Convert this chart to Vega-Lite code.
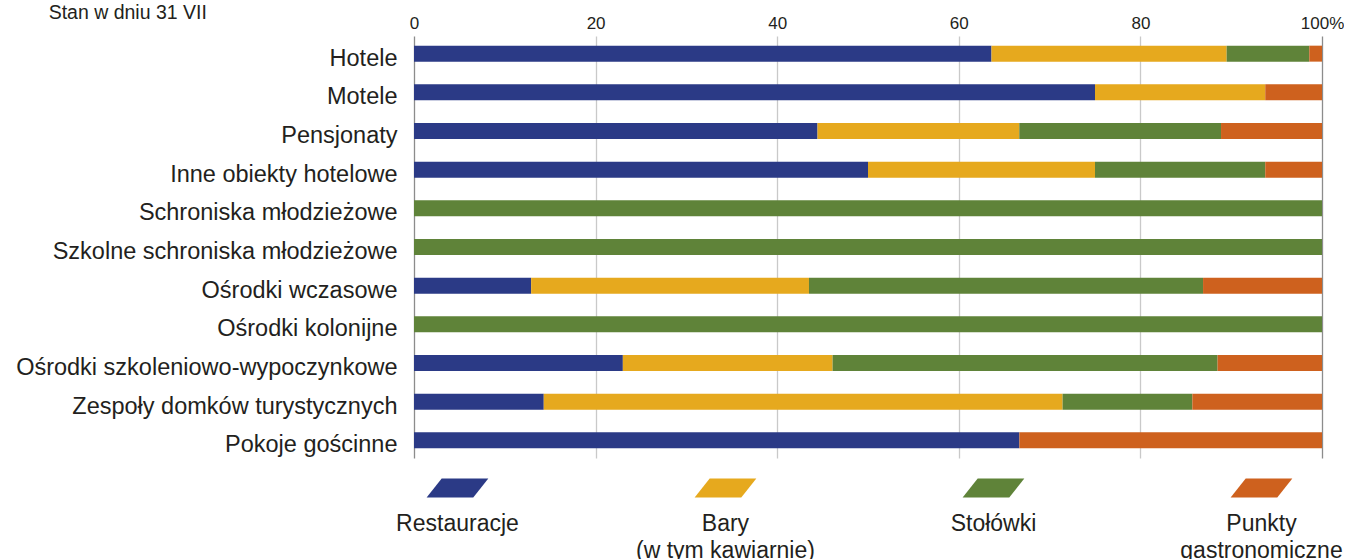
{
  "$schema": "https://vega.github.io/schema/vega-lite/v6.json",
  "padding": {"left": 15, "top": 2, "right": 0, "bottom": 0},
  "background": "#ffffff",
  "config": {
    "view": {"stroke": null},
    "font": "Liberation Sans",
    "text": {"font": "Liberation Sans"}
  },
  "title": {
    "text": "Stan w dniu 31 VII",
    "anchor": "start",
    "frame": "bounds",
    "fontSize": 19.5,
    "fontWeight": "normal",
    "font": "Liberation Sans",
    "color": "#231F20",
    "dx": 33,
    "offset": -9
  },
  "spacing": 6,
  "resolve": {"scale": {"x": "independent", "y": "independent"}},
  "vconcat": [
    {
      "width": 908,
      "height": 422,
      "data": {
        "values": [
          {"obiekt": "Hotele", "rodzaj": "Restauracje", "nr": 1, "udzial": 63.6},
          {"obiekt": "Hotele", "rodzaj": "Bary (w tym kawiarnie)", "nr": 2, "udzial": 25.9},
          {"obiekt": "Hotele", "rodzaj": "Stołówki", "nr": 3, "udzial": 9.1},
          {"obiekt": "Hotele", "rodzaj": "Punkty gastronomiczne", "nr": 4, "udzial": 1.4},
          {"obiekt": "Motele", "rodzaj": "Restauracje", "nr": 1, "udzial": 75.0},
          {"obiekt": "Motele", "rodzaj": "Bary (w tym kawiarnie)", "nr": 2, "udzial": 18.75},
          {"obiekt": "Motele", "rodzaj": "Stołówki", "nr": 3, "udzial": 0},
          {"obiekt": "Motele", "rodzaj": "Punkty gastronomiczne", "nr": 4, "udzial": 6.25},
          {"obiekt": "Pensjonaty", "rodzaj": "Restauracje", "nr": 1, "udzial": 44.44},
          {"obiekt": "Pensjonaty", "rodzaj": "Bary (w tym kawiarnie)", "nr": 2, "udzial": 22.22},
          {"obiekt": "Pensjonaty", "rodzaj": "Stołówki", "nr": 3, "udzial": 22.22},
          {"obiekt": "Pensjonaty", "rodzaj": "Punkty gastronomiczne", "nr": 4, "udzial": 11.12},
          {"obiekt": "Inne obiekty hotelowe", "rodzaj": "Restauracje", "nr": 1, "udzial": 50.0},
          {"obiekt": "Inne obiekty hotelowe", "rodzaj": "Bary (w tym kawiarnie)", "nr": 2, "udzial": 25.0},
          {"obiekt": "Inne obiekty hotelowe", "rodzaj": "Stołówki", "nr": 3, "udzial": 18.75},
          {"obiekt": "Inne obiekty hotelowe", "rodzaj": "Punkty gastronomiczne", "nr": 4, "udzial": 6.25},
          {"obiekt": "Schroniska młodzieżowe", "rodzaj": "Stołówki", "nr": 3, "udzial": 100},
          {"obiekt": "Szkolne schroniska młodzieżowe", "rodzaj": "Stołówki", "nr": 3, "udzial": 100},
          {"obiekt": "Ośrodki wczasowe", "rodzaj": "Restauracje", "nr": 1, "udzial": 12.9},
          {"obiekt": "Ośrodki wczasowe", "rodzaj": "Bary (w tym kawiarnie)", "nr": 2, "udzial": 30.6},
          {"obiekt": "Ośrodki wczasowe", "rodzaj": "Stołówki", "nr": 3, "udzial": 43.4},
          {"obiekt": "Ośrodki wczasowe", "rodzaj": "Punkty gastronomiczne", "nr": 4, "udzial": 13.1},
          {"obiekt": "Ośrodki kolonijne", "rodzaj": "Stołówki", "nr": 3, "udzial": 100},
          {"obiekt": "Ośrodki szkoleniowo-wypoczynkowe", "rodzaj": "Restauracje", "nr": 1, "udzial": 23.0},
          {"obiekt": "Ośrodki szkoleniowo-wypoczynkowe", "rodzaj": "Bary (w tym kawiarnie)", "nr": 2, "udzial": 23.1},
          {"obiekt": "Ośrodki szkoleniowo-wypoczynkowe", "rodzaj": "Stołówki", "nr": 3, "udzial": 42.4},
          {"obiekt": "Ośrodki szkoleniowo-wypoczynkowe", "rodzaj": "Punkty gastronomiczne", "nr": 4, "udzial": 11.5},
          {"obiekt": "Zespoły domków turystycznych", "rodzaj": "Restauracje", "nr": 1, "udzial": 14.29},
          {"obiekt": "Zespoły domków turystycznych", "rodzaj": "Bary (w tym kawiarnie)", "nr": 2, "udzial": 57.14},
          {"obiekt": "Zespoły domków turystycznych", "rodzaj": "Stołówki", "nr": 3, "udzial": 14.29},
          {"obiekt": "Zespoły domków turystycznych", "rodzaj": "Punkty gastronomiczne", "nr": 4, "udzial": 14.28},
          {"obiekt": "Pokoje gościnne", "rodzaj": "Restauracje", "nr": 1, "udzial": 66.67},
          {"obiekt": "Pokoje gościnne", "rodzaj": "Punkty gastronomiczne", "nr": 4, "udzial": 33.33}
        ]
      },
      "mark": {"type": "bar"},
      "encoding": {
        "y": {
          "field": "obiekt",
          "type": "nominal",
          "sort": ["Hotele", "Motele", "Pensjonaty", "Inne obiekty hotelowe", "Schroniska młodzieżowe", "Szkolne schroniska młodzieżowe", "Ośrodki wczasowe", "Ośrodki kolonijne", "Ośrodki szkoleniowo-wypoczynkowe", "Zespoły domków turystycznych", "Pokoje gościnne"],
          "scale": {"paddingInner": 0.587, "paddingOuter": 0.25},
          "axis": {
            "title": null,
            "grid": false,
            "ticks": false,
            "domain": false,
            "labelFontSize": 23.5,
            "labelFont": "Liberation Sans",
            "labelColor": "#231F20",
            "labelPadding": 17,
            "labelOffset": 5,
            "labelLimit": 600
          }
        },
        "x": {
          "field": "udzial",
          "type": "quantitative",
          "stack": "zero",
          "scale": {"domain": [0, 100], "nice": false},
          "axis": {
            "orient": "top",
            "title": null,
            "values": [0, 20, 40, 60, 80, 100],
            "labelExpr": "datum.value == 100 ? '100%' : datum.label",
            "domain": false,
            "ticks": false,
            "labelFontSize": 17,
            "labelFont": "Liberation Sans",
            "labelColor": "#231F20",
            "labelPadding": 4,
            "labelFlush": false,
            "grid": true,
            "gridWidth": 1.3,
            "gridColor": {"condition": {"test": "datum.value == 0 || datum.value == 100", "value": "#8C8C8C"}, "value": "#C9C9C9"}
          }
        },
        "order": {"field": "nr", "type": "quantitative", "sort": "ascending"},
        "color": {
          "field": "rodzaj",
          "type": "nominal",
          "scale": {
            "domain": ["Restauracje", "Bary (w tym kawiarnie)", "Stołówki", "Punkty gastronomiczne"],
            "range": ["#2B3A86", "#E6A91E", "#5F8339", "#CE611E"]
          },
          "legend": null
        }
      }
    },
    {
      "width": 908,
      "height": 48,
      "data": {
        "values": [
          {"rodzaj": "Restauracje", "etykieta": "Restauracje"},
          {"rodzaj": "Bary (w tym kawiarnie)", "etykieta": "Bary\n(w tym kawiarnie)"},
          {"rodzaj": "Stołówki", "etykieta": "Stołówki"},
          {"rodzaj": "Punkty gastronomiczne", "etykieta": "Punkty\ngastronomiczne"}
        ]
      },
      "encoding": {
        "x": {
          "field": "rodzaj",
          "type": "nominal",
          "sort": ["Restauracje", "Bary (w tym kawiarnie)", "Stołówki", "Punkty gastronomiczne"],
          "scale": {"type": "point", "padding": 0.194, "align": 0.418},
          "axis": null
        }
      },
      "layer": [
        {
          "mark": {
            "type": "point",
            "shape": "M -0.512 -0.308 L 1 -0.308 L 0.512 0.308 L -1 0.308 Z",
            "size": 3807,
            "filled": true,
            "opacity": 1,
            "strokeWidth": 0
          },
          "encoding": {
            "color": {
              "field": "rodzaj",
              "type": "nominal",
              "scale": {
                "domain": ["Restauracje", "Bary (w tym kawiarnie)", "Stołówki", "Punkty gastronomiczne"],
                "range": ["#2B3A86", "#E6A91E", "#5F8339", "#CE611E"]
              },
              "legend": null
            }
          }
        },
        {
          "mark": {
            "type": "text",
            "baseline": "top",
            "align": "center",
            "dy": 25,
            "fontSize": 23,
            "font": "Liberation Sans",
            "lineBreak": "\n",
            "lineHeight": 27,
            "color": "#231F20"
          },
          "encoding": {
            "text": {"field": "etykieta", "type": "nominal"}
          }
        }
      ]
    }
  ]
}
